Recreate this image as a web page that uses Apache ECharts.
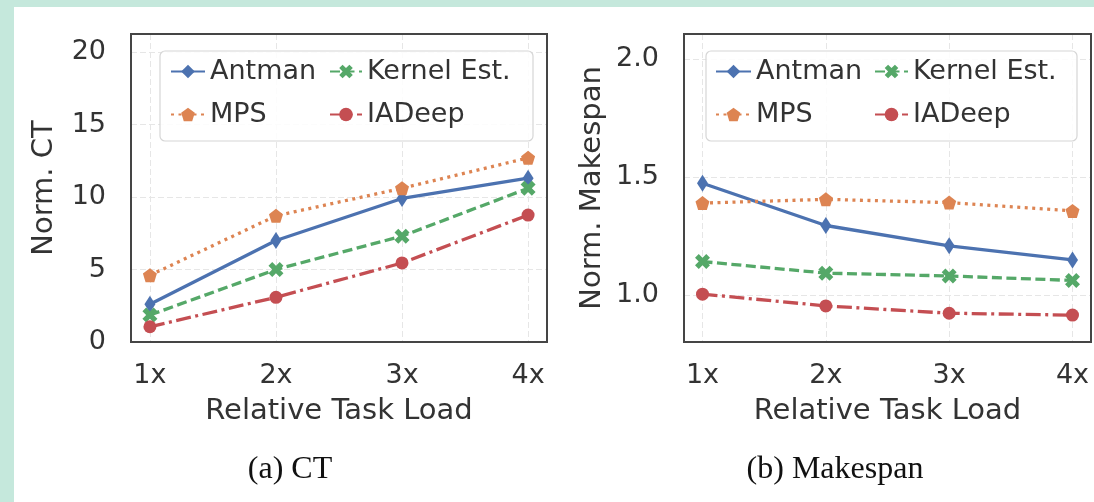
<!DOCTYPE html>
<html>
<head>
<meta charset="utf-8">
<script src="https://cdn.jsdelivr.net/npm/echarts@6/dist/echarts.min.js"></script>
<style>
  html, body { margin: 0; padding: 0; width: 1094px; height: 502px; background: #c5e8dc; overflow: hidden; }
  #paper { position: absolute; left: 14px; top: 7px; right: 0; bottom: 0; background: #ffffff; }
  #chart { position: absolute; left: 0; top: 0; width: 1094px; height: 502px; }
</style>
</head>
<body>
<div id="paper"></div>
<div id="chart"></div>
<script>
// ---- data ----
const categories = ['1x', '2x', '3x', '4x'];
const seriesNames = ['Antman', 'Kernel Est.', 'MPS', 'IADeep'];

// (a) Normalized CT
const ctAntman = [2.6, 7.0, 9.9, 11.3];
const ctKernel = [1.86, 5.0, 7.3, 10.6];
const ctMPS    = [4.6, 8.7, 10.6, 12.7];
const ctIADeep = [1.05, 3.08, 5.45, 8.75];

// (b) Normalized Makespan
const msAntman = [1.473, 1.294, 1.208, 1.148];
const msKernel = [1.141, 1.092, 1.080, 1.061];
const msMPS    = [1.389, 1.405, 1.391, 1.356];
const msIADeep = [1.003, 0.953, 0.922, 0.914];

const ctTicks = [0, 5, 10, 15, 20];
const msTicks = [1.0, 1.5, 2.0];
const xTicks = [1, 2, 3, 4];

// ---- styles ----
const colors = { 'Antman': '#4c72b0', 'Kernel Est.': '#55a868', 'MPS': '#dd8452', 'IADeep': '#c44e52' };
const dashes = { 'Antman': 'solid', 'Kernel Est.': [10, 4.5], 'MPS': [3, 4.5], 'IADeep': [15, 4.5, 3, 4.5] };
const symbols = {
  'Antman': 'diamond',
  'Kernel Est.': 'path://M2.5,0 L5,2.5 L7.5,0 L10,2.5 L7.5,5 L10,7.5 L7.5,10 L5,7.5 L2.5,10 L0,7.5 L2.5,5 L0,2.5 Z',
  'MPS': 'path://M5,0 L10,3.8 L8.1,10 L1.9,10 L0,3.8 Z',
  'IADeep': 'circle'
};
const symbolSizes = { 'Antman': [11, 17], 'Kernel Est.': 15, 'MPS': 14, 'IADeep': 13 };

const textColor = '#333333';
const font = 'DejaVu Sans';

function makeSeries(name, values, idx) {
  return {
    name: name,
    type: 'line',
    xAxisIndex: idx,
    yAxisIndex: idx,
    data: categories.map((c, i) => [xTicks[i], values[i]]),
    symbol: symbols[name],
    symbolSize: symbolSizes[name],
    showSymbol: true,
    itemStyle: { color: colors[name] },
    lineStyle: { color: colors[name], width: 3.3, type: dashes[name] },
    emphasis: { disabled: true },
    animation: false,
    z: 5
  };
}

function xAxis(gridIndex) {
  return {
    type: 'value', gridIndex: gridIndex, min: 0.85, max: 4.15, splitNumber: 3,
    axisLine: { show: false },
    axisTick: { show: false, customValues: xTicks },
    axisLabel: {
      customValues: xTicks, margin: 20, color: textColor, fontFamily: font, fontSize: 27,
      formatter: v => categories[Math.round(v) - 1] || ''
    },
    splitLine: { show: true, lineStyle: { color: '#e6e6e6', width: 1, type: [6, 3] } },
    name: 'Relative Task Load', nameLocation: 'middle', nameGap: 55,
    nameTextStyle: { color: textColor, fontFamily: font, fontSize: 29 }
  };
}

function yAxis(gridIndex, min, max, ticks, name, gap, fmt) {
  return {
    type: 'value', gridIndex: gridIndex, min: min, max: max,
    axisLine: { show: false },
    axisTick: { show: false, customValues: ticks },
    axisLabel: { customValues: ticks, margin: 25, color: textColor, fontFamily: font, fontSize: 27, formatter: fmt },
    splitLine: { show: true, lineStyle: { color: '#e6e6e6', width: 1, type: [6, 3] } },
    name: name, nameLocation: 'middle', nameGap: gap,
    nameTextStyle: { color: textColor, fontFamily: font, fontSize: 29 }
  };
}

function legendCol(names, left, itemWidth) {
  return {
    data: names, orient: 'vertical', left: left, top: 58, padding: 0,
    itemWidth: itemWidth, itemHeight: 17, itemGap: 16,
    selectedMode: false,
    textStyle: { color: textColor, fontFamily: font, fontSize: 27 },
    z: 10
  };
}

const chart = echarts.init(document.getElementById('chart'), null, { renderer: 'canvas' });
chart.setOption({
  backgroundColor: 'transparent',
  animation: false,
  grid: [
    { left: 131, top: 34, width: 416, height: 308, show: false },
    { left: 684, top: 34, width: 407, height: 308, show: false }
  ],
  xAxis: [xAxis(0), xAxis(1)],
  yAxis: [
    yAxis(0, 0, 21.24, ctTicks, 'Norm. CT', 72, v => String(v)),
    yAxis(1, 0.80, 2.106, msTicks, 'Norm. Makespan', 77, v => v.toFixed(1))
  ],
  legend: [
    legendCol(['Antman', 'MPS'], 170, 34),
    legendCol(['Kernel Est.', 'IADeep'], 329, 32),
    legendCol(['Antman', 'MPS'], 715, 35),
    legendCol(['Kernel Est.', 'IADeep'], 874, 33)
  ],
  graphic: [
    { type: 'rect', shape: { x: 160, y: 51, width: 373, height: 90, r: 5 },
      style: { fill: 'rgba(255,255,255,0.85)', stroke: '#d6d6d6', lineWidth: 1.2 }, z: 3 },
    { type: 'rect', shape: { x: 706, y: 51, width: 371, height: 90, r: 5 },
      style: { fill: 'rgba(255,255,255,0.85)', stroke: '#d6d6d6', lineWidth: 1.2 }, z: 3 },
    { type: 'rect', shape: { x: 131, y: 34, width: 416, height: 308 },
      style: { fill: 'none', stroke: '#454545', lineWidth: 2 }, z: 20 },
    { type: 'rect', shape: { x: 684, y: 34, width: 407, height: 308 },
      style: { fill: 'none', stroke: '#454545', lineWidth: 2 }, z: 20 },
    { type: 'text', x: 290, y: 470, style: { text: '(a) CT', fill: '#111111', font: '32px "Liberation Serif"', textAlign: 'center', textVerticalAlign: 'middle' } },
    { type: 'text', x: 835, y: 470, style: { text: '(b) Makespan', fill: '#111111', font: '32px "Liberation Serif"', textAlign: 'center', textVerticalAlign: 'middle' } }
  ],
  series: [
    makeSeries('Antman', ctAntman, 0),
    makeSeries('Kernel Est.', ctKernel, 0),
    makeSeries('MPS', ctMPS, 0),
    makeSeries('IADeep', ctIADeep, 0),
    makeSeries('Antman', msAntman, 1),
    makeSeries('Kernel Est.', msKernel, 1),
    makeSeries('MPS', msMPS, 1),
    makeSeries('IADeep', msIADeep, 1)
  ]
});
</script>
</body>
</html>
